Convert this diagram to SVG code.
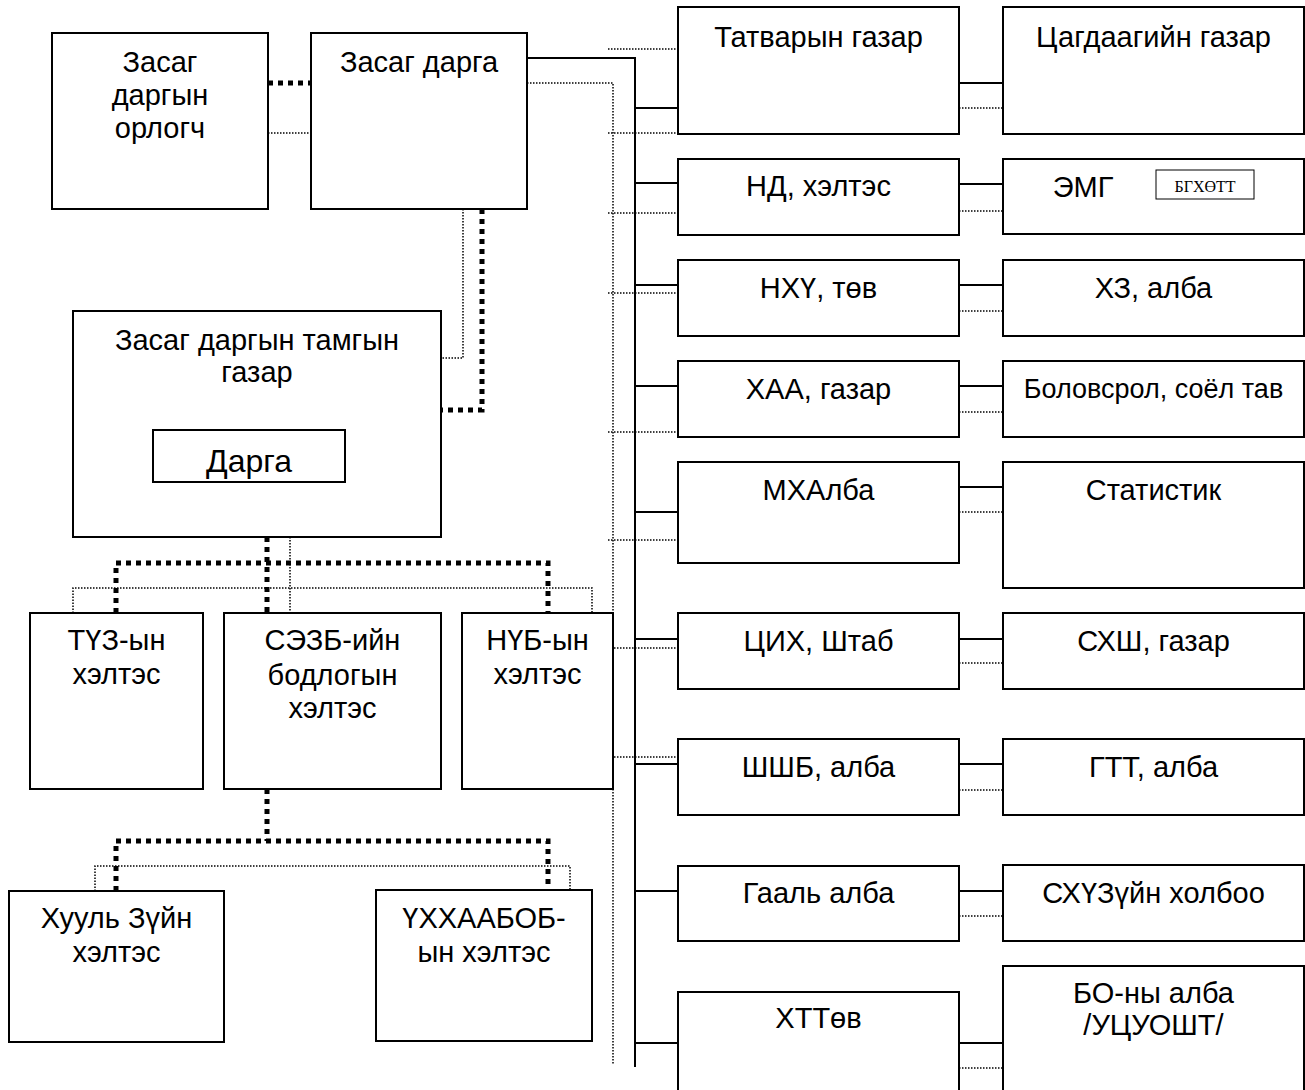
<svg xmlns="http://www.w3.org/2000/svg" width="1305" height="1090" viewBox="0 0 1305 1090">
<style>
.box{fill:#fff;stroke:#000;stroke-width:2}
.t{font-family:"Liberation Sans",Arial,sans-serif;font-size:29px;fill:#000;text-anchor:middle}
.solid{fill:none;stroke:#000;stroke-width:2}
.thin{fill:none;stroke:#000;stroke-width:1.5;stroke-dasharray:1.5 1.5}
.thick{fill:none;stroke:#000;stroke-width:5;stroke-dasharray:5 5}
</style>
<rect width="1305" height="1090" fill="#fff"/>
<g id="connectors">
<path class="thick" d="M268,83 H311"/>
<path class="thin" d="M268,133 H311"/>
<path class="solid" d="M527,58 H635 V1067"/>
<path class="thin" d="M527,83 H613 V1065"/>
<path class="thin" d="M463,209 V358 H441"/>
<path class="thick" d="M482,209 V410 H441"/>
<path class="thick" d="M267,537 V613"/>
<path class="thin" d="M290,537 V613"/>
<path class="thick" d="M116,613 V563 H548 V613"/>
<path class="thin" d="M73,613 V588 H592 V613"/>
<path class="thick" d="M267,789 V841"/>
<path class="thick" d="M116,891 V841 H548 V891"/>
<path class="thin" d="M95,891 V866 H570 V891"/>
<path class="solid" d="M635,108 H678 M635,183 H678 M635,285 H678 M635,386 H678 M635,512 H678 M635,639 H678 M635,764 H678 M635,891 H678 M635,1043 H678"/>
<path class="thin" d="M608,49 H683 M608,133 H683 M608,213 H683 M608,293 H683 M608,432 H683 M608,540 H683 M608,648 H683 M608,757 H683"/>
<path class="solid" d="M959,83 H1003 M959,184 H1003 M959,285 H1003 M959,386 H1003 M959,487 H1003 M959,639 H1003 M959,764 H1003 M959,891 H1003 M959,1043 H1003"/>
<path class="thin" d="M959,108 H1003 M959,211 H1003 M959,311 H1003 M959,412 H1003 M959,512 H1003 M959,663 H1003 M959,790 H1003 M959,916 H1003 M959,1068 H1003"/>
</g>
<g id="orlogch"><rect class="box" x="52" y="33" width="216" height="176"/><text class="t" x="160" y="72">Засаг</text><text class="t" x="160" y="105">даргын</text><text class="t" x="160" y="138">орлогч</text></g>
<g id="zasag-darga"><rect class="box" x="311" y="33" width="216" height="176"/><text class="t" x="419" y="72">Засаг дарга</text></g>
<g id="tamgyn-gazar"><rect class="box" x="73" y="311" width="368" height="226"/><text class="t" x="257" y="350">Засаг даргын тамгын</text><text class="t" x="257" y="382">газар</text></g>
<g id="darga"><rect class="box" x="153" y="430" width="192" height="52"/><text class="t" x="249" y="472" style="font-size:32px">Дарга</text></g>
<g id="tuz"><rect class="box" x="30" y="613" width="173" height="176"/><text class="t" x="116.5" y="650">ТҮЗ-ын</text><text class="t" x="116.5" y="684">хэлтэс</text></g>
<g id="sezb"><rect class="box" x="224" y="613" width="217" height="176"/><text class="t" x="332.5" y="650">СЭЗБ-ийн</text><text class="t" x="332.5" y="685">бодлогын</text><text class="t" x="332.5" y="718">хэлтэс</text></g>
<g id="nub"><rect class="box" x="462" y="613" width="151" height="176"/><text class="t" x="537.5" y="650">НҮБ-ын</text><text class="t" x="537.5" y="684">хэлтэс</text></g>
<g id="khuul"><rect class="box" x="9" y="891" width="215" height="151"/><text class="t" x="116.5" y="928">Хууль Зүйн</text><text class="t" x="116.5" y="962">хэлтэс</text></g>
<g id="ukhkhaabob"><rect class="box" x="376" y="890" width="216" height="151"/><text class="t" x="484" y="928">ҮХХААБОБ-</text><text class="t" x="484" y="962">ын хэлтэс</text></g>
<g id="tatvar"><rect class="box" x="678" y="7" width="281" height="127"/><text class="t" x="818.5" y="47">Татварын газар</text></g>
<g id="tsagdaa"><rect class="box" x="1003" y="7" width="301" height="127"/><text class="t" x="1153.5" y="47">Цагдаагийн газар</text></g>
<g id="nd"><rect class="box" x="678" y="159" width="281" height="76"/><text class="t" x="818.5" y="196">НД, хэлтэс</text></g>
<g id="emg"><rect class="box" x="1003" y="159" width="301" height="75"/><text class="t" x="1083" y="197">ЭМГ</text><rect x="1156" y="170" width="98" height="29" fill="#fff" stroke="#000" stroke-width="1"/><text x="1205" y="192" style="font-family:'Liberation Serif','Times New Roman',serif;font-size:16px;text-anchor:middle;fill:#000">БГХӨТТ</text></g>
<g id="nkhu"><rect class="box" x="678" y="260" width="281" height="76"/><text class="t" x="818.5" y="298">НХҮ, төв</text></g>
<g id="khz"><rect class="box" x="1003" y="260" width="301" height="76"/><text class="t" x="1153.5" y="298">ХЗ, алба</text></g>
<g id="khaa"><rect class="box" x="678" y="361" width="281" height="76"/><text class="t" x="818.5" y="399">ХАА, газар</text></g>
<g id="bolovsrol"><rect class="box" x="1003" y="361" width="301" height="76"/><text class="t" x="1153.5" y="398" style="font-size:27px">Боловсрол, соёл тав</text></g>
<g id="mkhalba"><rect class="box" x="678" y="462" width="281" height="101"/><text class="t" x="818.5" y="500">МХАлба</text></g>
<g id="statistik"><rect class="box" x="1003" y="462" width="301" height="126"/><text class="t" x="1153.5" y="500">Статистик</text></g>
<g id="tsikh"><rect class="box" x="678" y="613" width="281" height="76"/><text class="t" x="818.5" y="651">ЦИХ, Штаб</text></g>
<g id="skhsh"><rect class="box" x="1003" y="613" width="301" height="76"/><text class="t" x="1153.5" y="651">СХШ, газар</text></g>
<g id="shshb"><rect class="box" x="678" y="739" width="281" height="76"/><text class="t" x="818.5" y="777">ШШБ, алба</text></g>
<g id="gtt"><rect class="box" x="1003" y="739" width="301" height="76"/><text class="t" x="1153.5" y="777">ГТТ, алба</text></g>
<g id="gaali"><rect class="box" x="678" y="866" width="281" height="75"/><text class="t" x="818.5" y="903">Гааль алба</text></g>
<g id="skhuz"><rect class="box" x="1003" y="865" width="301" height="76"/><text class="t" x="1153.5" y="903">СХҮЗүйн холбоо</text></g>
<g id="khttov"><rect class="box" x="678" y="992" width="281" height="110"/><text class="t" x="818.5" y="1028">ХТТөв</text></g>
<g id="bo"><rect class="box" x="1003" y="966" width="301" height="136"/><text class="t" x="1153.5" y="1003">БО-ны алба</text><text class="t" x="1153.5" y="1035">/УЦУОШТ/</text></g>
</svg>
